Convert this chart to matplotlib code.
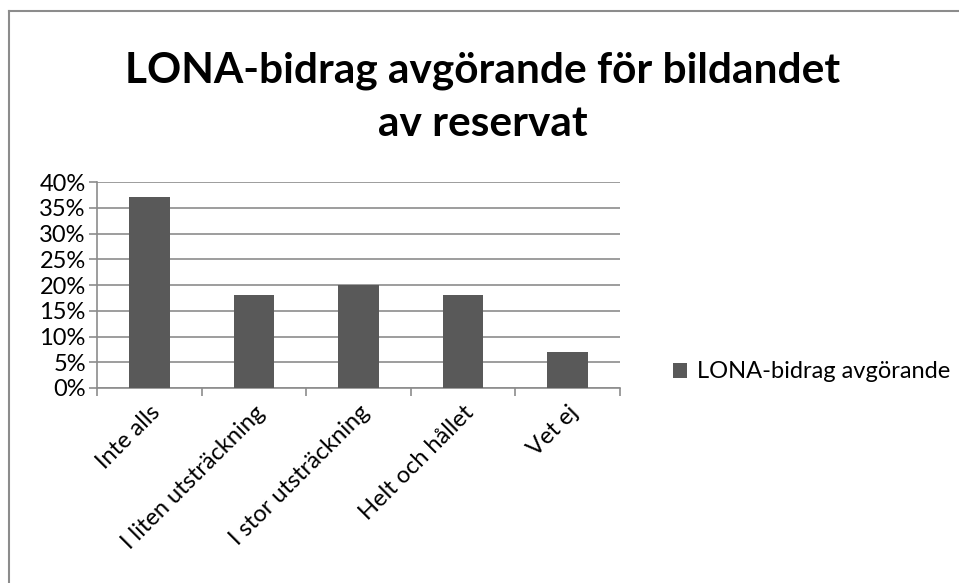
import matplotlib.pyplot as plt
from matplotlib.ticker import FuncFormatter
from matplotlib.lines import Line2D
import numpy as np

plt.rcParams['font.family'] = ['Lato', 'DejaVu Sans']

categories = ['Inte alls', 'I liten utsträckning', 'I stor utsträckning',
              'Helt och hållet', 'Vet ej']
values = [37, 18, 20, 18, 7]
series_name = 'LONA-bidrag avgörande'
title = 'LONA-bidrag avgörande för bildandet\nav reservat'

W, H = 959, 583
fig = plt.figure(figsize=(W/100, H/100), dpi=100)

# chart border (only left and top edges visible in the crop)
fig.add_artist(Line2D([9/W, 9/W], [0, 1-11/H], color='#8c8c8c', lw=1.5))
fig.add_artist(Line2D([9/W, 1], [1-11/H, 1-11/H], color='#8c8c8c', lw=1.5))

ax = fig.add_axes([97/W, 1-388/H, (620-97)/W, (388-182)/H])

x = np.arange(len(categories))
ax.bar(x, values, width=0.39, color='#595959', label=series_name, zorder=3)

ax.set_xlim(-0.5, len(categories)-0.5)
ax.set_ylim(0, 40)
ax.set_yticks(np.arange(0, 41, 5))
ax.yaxis.set_major_formatter(FuncFormatter(lambda v, p: '%d%%' % v))
ax.grid(axis='y', color='#8c8c8c', linewidth=1.2, zorder=0)

ax.set_xticks(np.arange(-0.5, len(categories)), minor=False)
ax.set_xticklabels([])
ax.set_xticks(x, minor=True)
ax.set_xticklabels(categories, minor=True, rotation=45, ha='right',
                   rotation_mode='anchor', fontsize=17)
ax.tick_params(axis='x', which='minor', length=0, pad=10)
ax.tick_params(axis='x', which='major', length=6, color='#8c8c8c', width=1.2)
ax.tick_params(axis='y', length=6, color='#8c8c8c', width=1.2, labelsize=17, pad=2)

for s in ['top', 'right']:
    ax.spines[s].set_visible(False)
for s in ['left', 'bottom']:
    ax.spines[s].set_color('#8c8c8c')
    ax.spines[s].set_linewidth(1.2)

fig.text(0.503, 1-97/H, title, ha='center', va='center', fontsize=30.5,
         fontweight='bold', linespacing=1.5)

fig.legend(loc='center left', bbox_to_anchor=(652/W, 1-372/H), frameon=False,
           fontsize=17, handlelength=0.6, handleheight=0.6, handletextpad=0.4)

plt.savefig('out.png', dpi=100)
